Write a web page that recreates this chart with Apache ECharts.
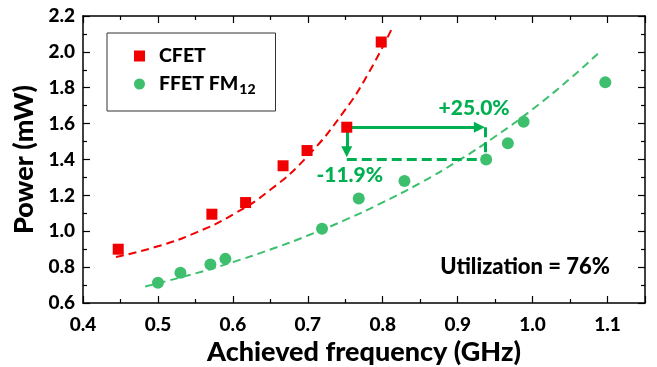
<!DOCTYPE html>
<html>
<head>
<meta charset="utf-8">
<script src="https://cdn.jsdelivr.net/npm/echarts@6/dist/echarts.min.js"></script>
<style>
  html, body { margin: 0; padding: 0; background: #fff; }
  #chart { width: 657px; height: 367px; }
</style>
</head>
<body>
<div id="chart"></div>
<script>
// measured points
const cfetFreq = [0.447, 0.572, 0.617, 0.667, 0.699, 0.752, 0.798];
const cfetPower = [0.90, 1.095, 1.16, 1.365, 1.45, 1.58, 2.055];
const ffetFreq = [0.500, 0.530, 0.570, 0.590, 0.719, 0.768, 0.829, 0.938, 0.967, 0.988, 1.097];
const ffetPower = [0.713, 0.768, 0.815, 0.846, 1.014, 1.183, 1.28, 1.40, 1.49, 1.61, 1.83];

// fitted curves
const cfetFitFreq = [0.444, 0.50, 0.55, 0.60, 0.65, 0.70, 0.75, 0.78, 0.812];
const cfetFitPower = [0.856, 0.916, 0.991, 1.093, 1.231, 1.42, 1.678, 1.874, 2.128];
const ffetFitFreq = [0.483, 0.55, 0.60, 0.65, 0.70, 0.75, 0.80, 0.85, 0.90, 0.95, 1.00, 1.05, 1.087];
const ffetFitPower = [0.692, 0.765, 0.828, 0.898, 0.976, 1.063, 1.161, 1.269, 1.391, 1.528, 1.68, 1.851, 1.99];

// annotation: frequency gain and power reduction
const arrowFreq = [0.752, 0.937];
const arrowPower = [1.58, 1.40];
const tipFreq = 0.929;
const tipPower = 1.443;
const gainLabel = '+25.0%';
const dropLabel = '-11.9%';
const utilLabel = 'Utilization = 76%';

const FONT = 'Lato';
const RED = '#f00000';
const GREEN = '#3dbf6e';
const ARROW = '#00b050';

const zip = (xs, ys) => xs.map((x, i) => [x, ys[i]]);

const myChart = echarts.init(document.getElementById('chart'));

const axisCommon = {
  axisLine: { show: true, onZero: false, lineStyle: { color: '#000', width: 1.5 } },
  axisTick: { show: true, inside: true, length: 7, lineStyle: { color: '#000', width: 1.2 } },
  minorTick: { show: true, splitNumber: 2, length: 4, lineStyle: { color: '#000', width: 1.2 } },
  splitLine: { show: false }
};

const solidArrow = { color: ARROW, width: 3, type: 'solid' };
const dashedLine = { color: ARROW, width: 3, type: [10, 5] };

const option = {
  animation: false,
  grid: { left: 83, right: 12, top: 16, bottom: 64, outerBoundsMode: 'none', containLabel: false },
  legend: {
    data: ['CFET', 'FFET FM12'],
    orient: 'vertical',
    left: 107,
    top: 33,
    padding: [13, 20, 15, 27],
    itemGap: 8,
    itemWidth: 11,
    itemHeight: 11,
    borderColor: '#333',
    borderWidth: 1,
    formatter: function (name) {
      // leading gap token pushes the text away from the marker
      return name === 'FFET FM12' ? '{g| }FFET FM{sub|12}' : '{g| }' + name;
    },
    textStyle: {
      fontFamily: FONT, fontWeight: 900, fontSize: 19.5, color: '#000',
      rich: {
        g: { width: 9, fontSize: 19.5 },
        sub: { fontFamily: FONT, fontWeight: 900, fontSize: 14, color: '#000', padding: [10, 0, 0, 1] }
      }
    }
  },
  xAxis: [
    Object.assign({
      type: 'value', min: 0.4, max: 1.15, interval: 0.1, position: 'bottom',
      name: 'Achieved frequency (GHz)', nameLocation: 'middle', nameGap: 32,
      nameTextStyle: { fontFamily: FONT, fontWeight: 900, fontSize: 27, color: '#000' },
      axisLabel: {
        margin: 12, showMaxLabel: false,
        fontFamily: FONT, fontWeight: 900, fontSize: 19, color: '#000',
        formatter: v => v.toFixed(1)
      }
    }, axisCommon),
    Object.assign({
      type: 'value', min: 0.4, max: 1.15, interval: 0.1, position: 'top',
      axisLabel: { show: false }
    }, axisCommon)
  ],
  yAxis: [
    Object.assign({
      type: 'value', min: 0.6, max: 2.2, interval: 0.2, position: 'left',
      name: 'Power (mW)', nameLocation: 'middle', nameGap: 43,
      nameTextStyle: { fontFamily: FONT, fontWeight: 900, fontSize: 27, color: '#000' },
      axisLabel: {
        margin: 8,
        fontFamily: FONT, fontWeight: 900, fontSize: 19, color: '#000',
        formatter: v => v.toFixed(1)
      }
    }, axisCommon),
    Object.assign({
      type: 'value', min: 0.6, max: 2.2, interval: 0.2, position: 'right',
      axisLabel: { show: false }
    }, axisCommon)
  ],
  series: [
    {
      name: 'CFET fit', type: 'line', smooth: true, showSymbol: false, symbol: 'none',
      data: zip(cfetFitFreq, cfetFitPower),
      lineStyle: { color: RED, width: 2, type: [8, 5] }, z: 2
    },
    {
      name: 'FFET fit', type: 'line', smooth: true, showSymbol: false, symbol: 'none',
      data: zip(ffetFitFreq, ffetFitPower),
      lineStyle: { color: GREEN, width: 2, type: [8, 5] }, z: 2
    },
    {
      name: 'annotation', type: 'line', data: [], z: 3,
      markLine: {
        silent: true,
        symbol: ['none', 'triangle'],
        symbolSize: 11,
        label: { show: false },
        emphasis: { disabled: true },
        data: [
          [
            { coord: [arrowFreq[0], arrowPower[0]], lineStyle: solidArrow },
            { coord: [tipFreq, arrowPower[0]] }
          ],
          [
            { coord: [arrowFreq[0], arrowPower[0]], lineStyle: solidArrow },
            { coord: [arrowFreq[0], tipPower] }
          ],
          [
            { coord: [arrowFreq[1], arrowPower[0]], lineStyle: dashedLine },
            { coord: [arrowFreq[1], arrowPower[1]], symbol: 'none' }
          ],
          [
            { coord: [arrowFreq[0], arrowPower[1]], lineStyle: dashedLine },
            { coord: [arrowFreq[1], arrowPower[1]], symbol: 'none' }
          ]
        ]
      }
    },
    {
      name: 'CFET', type: 'scatter', symbol: 'rect', symbolSize: 11,
      data: zip(cfetFreq, cfetPower),
      itemStyle: { color: RED, opacity: 1 }, z: 5
    },
    {
      name: 'FFET FM12', type: 'scatter', symbol: 'circle', symbolSize: 12,
      data: zip(ffetFreq, ffetPower),
      itemStyle: { color: GREEN, opacity: 1 }, z: 5
    },
    {
      name: 'labels', type: 'scatter', symbolSize: 0, silent: true, z: 6,
      itemStyle: { opacity: 1 },
      data: [
        { value: [0.922, 1.685], label: { formatter: gainLabel, color: ARROW } },
        { value: [0.756, 1.313], label: { formatter: dropLabel, color: ARROW } },
        { value: [0.99, 0.803], label: { formatter: utilLabel, color: '#000', fontSize: 22 } }
      ],
      label: { show: true, position: 'inside', fontFamily: FONT, fontWeight: 900, fontSize: 21 }
    }
  ]
};

option && myChart.setOption(option);
</script>
</body>
</html>
